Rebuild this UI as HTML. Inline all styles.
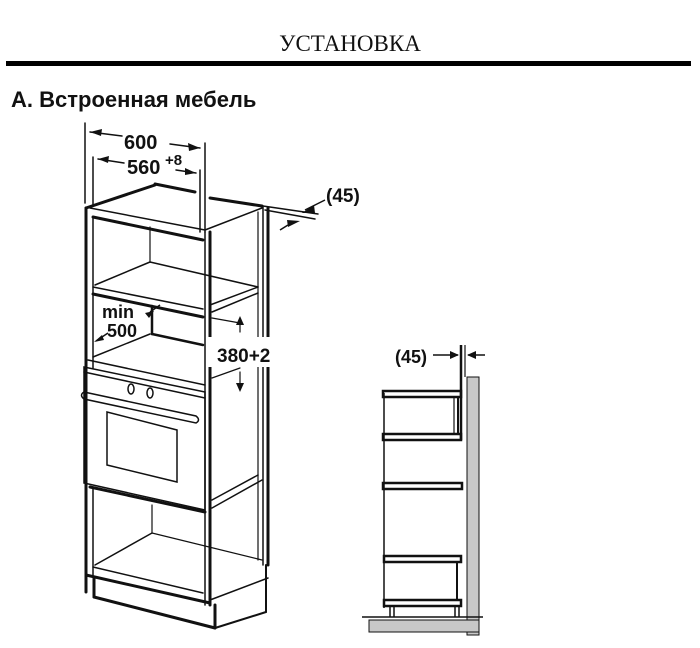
<!DOCTYPE html>
<html><head><meta charset="utf-8"><style>
html,body{margin:0;padding:0;background:#fff;width:700px;height:648px;overflow:hidden}
</style></head><body>
<svg width="700" height="648" viewBox="0 0 700 648" xmlns="http://www.w3.org/2000/svg">
<text x="350" y="51" text-anchor="middle" font-family="Liberation Serif, serif" font-size="23" fill="#111">УСТАНОВКА</text>
<rect x="6" y="61" width="685" height="5" fill="#000"/>
<text x="11" y="107" font-family="Liberation Sans, sans-serif" font-weight="bold" font-size="22" fill="#111">A. Встроенная мебель</text>

<g stroke="#111" fill="none" stroke-linecap="round">
<line x1="85" y1="123" x2="85" y2="203" stroke-width="1.5"/>
<line x1="93" y1="157" x2="93" y2="205" stroke-width="1.5"/>
<line x1="205" y1="143" x2="205" y2="232" stroke-width="1.5"/>
<line x1="200" y1="170" x2="200" y2="232" stroke-width="1.5"/>
<line x1="90" y1="132" x2="122" y2="136" stroke-width="1.5"/>
<line x1="170" y1="144" x2="200" y2="148" stroke-width="1.5"/>
<line x1="98" y1="159" x2="124" y2="163" stroke-width="1.5"/>
<line x1="176" y1="170" x2="196" y2="173" stroke-width="1.5"/>
<polyline points="86,208 155,185" stroke-width="3"/>
<line x1="155" y1="184" x2="195" y2="192" stroke-width="3"/>
<line x1="210" y1="198" x2="262" y2="206" stroke-width="3"/>
<line x1="205" y1="230" x2="262" y2="208" stroke-width="1.5"/>
<line x1="263" y1="206" x2="318" y2="214" stroke-width="1.5"/>
<line x1="265" y1="210" x2="315" y2="219" stroke-width="1.5"/>
<line x1="90" y1="208" x2="205" y2="230" stroke-width="1.5"/>
<line x1="86" y1="208" x2="86" y2="592" stroke-width="3"/>
<line x1="93" y1="217" x2="93" y2="368" stroke-width="1.5"/>
<line x1="205" y1="232" x2="205" y2="605" stroke-width="1.5"/>
<line x1="210" y1="232" x2="210" y2="605" stroke-width="3"/>
<line x1="93" y1="217" x2="203" y2="240" stroke-width="3"/>
<line x1="150" y1="227" x2="150" y2="262" stroke-width="1.2"/>
<line x1="150" y1="262" x2="258" y2="287" stroke-width="1.5"/>
<line x1="95" y1="285" x2="150" y2="262" stroke-width="1.5"/>
<line x1="93" y1="287" x2="203" y2="309" stroke-width="1.5"/>
<line x1="210" y1="305" x2="258" y2="287" stroke-width="1.5"/>
<line x1="212" y1="312" x2="258" y2="293" stroke-width="1.5"/>
<line x1="93" y1="294" x2="203" y2="317" stroke-width="3"/>
<line x1="152" y1="306" x2="152" y2="334" stroke-width="2.5"/>
<line x1="152" y1="334" x2="203" y2="345" stroke-width="2.5"/>
<line x1="93" y1="357" x2="150" y2="334" stroke-width="1.5"/>
<line x1="88" y1="360" x2="205" y2="385" stroke-width="1.5"/>
<line x1="212" y1="318" x2="240" y2="323" stroke-width="1.2"/>
<line x1="240" y1="318" x2="240" y2="332" stroke-width="1.2"/>
<line x1="240" y1="372" x2="240" y2="390" stroke-width="1.2"/>
<line x1="212" y1="378" x2="240" y2="368" stroke-width="1.2"/>
<polygon points="84,367 205,392 205,510 84,483" stroke-width="1.5"/>
<line x1="84" y1="372" x2="205" y2="398" stroke-width="1.5"/>
<path d="M84,392 L196,416 Q201,420 196,423 L84,399 Q79,395 84,392 Z" stroke-width="1.5"/>
<ellipse cx="131" cy="389" rx="3" ry="5" stroke-width="1.5"/>
<ellipse cx="150" cy="393" rx="3" ry="5" stroke-width="1.5"/>
<polygon points="107,412 177,430 177,482 107,465" stroke-width="1.5"/>
<line x1="258" y1="212" x2="258" y2="560" stroke-width="1.2"/>
<line x1="263" y1="206" x2="263" y2="565" stroke-width="1.5"/>
<line x1="268" y1="208" x2="268" y2="565" stroke-width="3"/>
<line x1="212" y1="500" x2="258" y2="475" stroke-width="1.5"/>
<line x1="212" y1="508" x2="262" y2="480" stroke-width="1.5"/>
<line x1="90" y1="487" x2="205" y2="512" stroke-width="3"/>
<line x1="93" y1="487" x2="93" y2="575" stroke-width="1.5"/>
<line x1="152" y1="505" x2="152" y2="533" stroke-width="1.2"/>
<line x1="152" y1="533" x2="262" y2="560" stroke-width="1.2"/>
<line x1="95" y1="565" x2="152" y2="533" stroke-width="1.5"/>
<line x1="93" y1="567" x2="203" y2="593" stroke-width="1.5"/>
<line x1="86" y1="575" x2="210" y2="603" stroke-width="3"/>
<line x1="210" y1="600" x2="268" y2="578" stroke-width="1.5"/>
<line x1="94" y1="578" x2="94" y2="597" stroke-width="3"/>
<line x1="94" y1="597" x2="215" y2="628" stroke-width="3"/>
<line x1="215" y1="605" x2="215" y2="628" stroke-width="3"/>
<line x1="215" y1="628" x2="266" y2="612" stroke-width="2"/>
<line x1="266" y1="565" x2="266" y2="612" stroke-width="2"/>
</g>
<g fill="#111">
<polygon points="90,132 102,129 101,136"/>
<polygon points="200,148 189,151 188,143"/>
<polygon points="98,159 109,156 108,163"/>
<polygon points="196,173 185,175 185,168"/>
<polygon points="240,316 236,325 244,325"/>
<polygon points="240,392 236,383 244,383"/>
<polygon points="302,213 314,205 315,213"/>
<polygon points="300,221 288,227 287,220"/>
<polygon points="154,311 145,313 149,318"/>
<polygon points="94,342 102,335 104,340"/>
</g>
<line x1="325" y1="200" x2="305" y2="210" stroke="#111" stroke-width="1.5"/>
<line x1="288" y1="225" x2="280" y2="230" stroke="#111" stroke-width="1.5"/>
<line x1="160" y1="305" x2="150" y2="312" stroke="#111" stroke-width="1.5"/>
<line x1="108" y1="333" x2="96" y2="341" stroke="#111" stroke-width="1.5"/>
<rect x="208" y="337" width="72" height="30" fill="#fff"/>
<g font-family="Liberation Sans, sans-serif" font-weight="bold" fill="#111">
<text x="124" y="149" font-size="20">600</text>
<text x="127" y="174" font-size="20">560</text>
<text x="165" y="165" font-size="15">+8</text>
<text x="326" y="202" font-size="19">(45)</text>
<text x="102" y="318" font-size="18">min</text>
<text x="107" y="337" font-size="18">500</text>
<text x="217" y="362" font-size="19">380+2</text>
<text x="395" y="363" font-size="18">(45)</text>
</g>

<rect x="467" y="377" width="12" height="258" fill="#c8c8c8" stroke="#111" stroke-width="1"/>
<rect x="369" y="620" width="110" height="12" fill="#c8c8c8" stroke="#111" stroke-width="1"/>
<line x1="362" y1="617" x2="483" y2="617" stroke="#111" stroke-width="1.5"/>
<g stroke="#111" fill="none">
<line x1="461" y1="345" x2="461" y2="440" stroke-width="2.5"/>
<line x1="465" y1="345" x2="465" y2="377" stroke-width="1.2"/>
<line x1="433" y1="355" x2="458" y2="355" stroke-width="1.5"/>
<line x1="468" y1="355" x2="485" y2="355" stroke-width="1.5"/>
<line x1="384" y1="393" x2="384" y2="608" stroke-width="1.5"/>
<rect x="383" y="391" width="78" height="6" stroke-width="2.5"/>
<rect x="383" y="434" width="78" height="6" stroke-width="2.5"/>
<line x1="458" y1="397" x2="458" y2="434" stroke-width="2"/>
<line x1="454" y1="397" x2="454" y2="434" stroke-width="1.2"/>
<rect x="383" y="483" width="79" height="6" stroke-width="2.5"/>
<rect x="384" y="556" width="77" height="6" stroke-width="2.5"/>
<rect x="384" y="600" width="77" height="6" stroke-width="2.5"/>
<line x1="457" y1="562" x2="457" y2="600" stroke-width="2"/>
<line x1="390" y1="606" x2="390" y2="617" stroke-width="1.5"/>
<line x1="394" y1="606" x2="394" y2="617" stroke-width="1.5"/>
<line x1="455" y1="606" x2="455" y2="617" stroke-width="1.5"/>
<line x1="459" y1="606" x2="459" y2="617" stroke-width="1.5"/>
</g>
<polygon points="459,355 450,351 450,359" fill="#111"/>
<polygon points="467,355 476,351 476,359" fill="#111"/>
</svg>
</body></html>
